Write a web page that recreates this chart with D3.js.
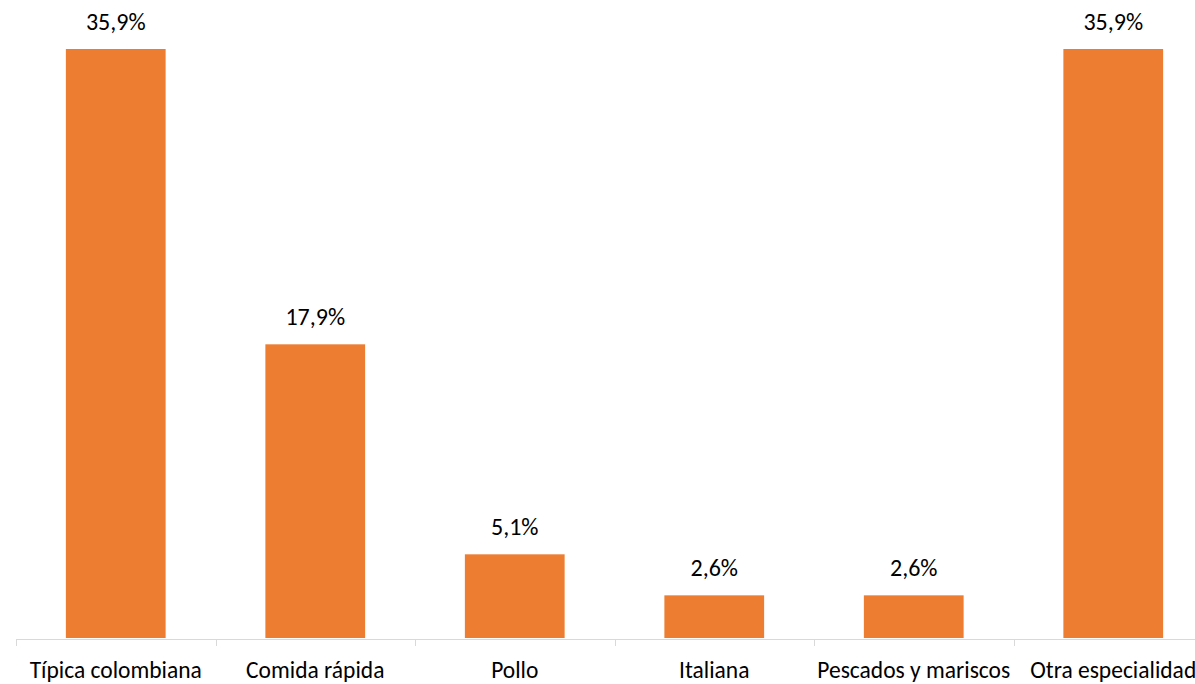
<!DOCTYPE html>
<html>
<head>
<meta charset="utf-8">
<script src="https://cdn.jsdelivr.net/npm/d3@7"></script>
<style>
  body { margin: 0; background: #fff; }
  text { font-family: Carlito, Lato, "Open Sans", sans-serif; fill: #000; }
</style>
</head>
<body>
<div id="chart"></div>
<script>
var categories = ['Típica colombiana', 'Comida rápida', 'Pollo', 'Italiana', 'Pescados y mariscos', 'Otra especialidad'];
var values = [35.9, 17.9, 5.1, 2.6, 2.6, 35.9];
var labels = ['35,9%', '17,9%', '5,1%', '2,6%', '2,6%', '35,9%'];

var width = 1195, height = 684;
var left = 16, right = 1213, base = 638;

var svg = d3.select('#chart').append('svg')
  .attr('width', width).attr('height', height);

var x = d3.scaleBand().domain(categories).range([left, right]).paddingInner(0.5).paddingOuter(0.25);
var y = d3.scaleLinear().domain([0, 35.9]).range([base, 49]);

// the bars
svg.selectAll('rect.bar').data(values).enter().append('rect')
  .attr('class', 'bar')
  .attr('x', function(d, i){ return x(categories[i]); })
  .attr('y', function(d){ return y(d); })
  .attr('width', x.bandwidth())
  .attr('height', function(d){ return base - y(d); })
  .style('fill', '#ed7d31');

// value labels
svg.selectAll('text.val').data(values).enter().append('text')
  .attr('class', 'val')
  .attr('x', function(d, i){ return x(categories[i]) + x.bandwidth() / 2; })
  .attr('y', function(d){ return y(d) - 19; })
  .attr('text-anchor', 'middle')
  .style('font-size', '24px')
  .text(function(d, i){ return labels[i]; });

// axis line and ticks between categories
var step = x.step();
svg.append('line')
  .attr('x1', left).attr('x2', width)
  .attr('y1', base + 1.5).attr('y2', base + 1.5)
  .style('stroke', '#d9d9d9').style('stroke-width', 1);
d3.range(categories.length + 1).forEach(function(i){
  var tx = Math.round(left + i * step) + 0.5;
  svg.append('line')
    .attr('x1', tx).attr('x2', tx)
    .attr('y1', base + 1).attr('y2', base + 8)
    .style('stroke', '#d9d9d9').style('stroke-width', 1);
});

// category labels
svg.selectAll('text.cat').data(categories).enter().append('text')
  .attr('class', 'cat')
  .attr('x', function(d){ return x(d) + x.bandwidth() / 2; })
  .attr('y', 678)
  .attr('text-anchor', 'middle')
  .style('font-size', '23.5px')
  .text(function(d){ return d; });
</script>
</body>
</html>
